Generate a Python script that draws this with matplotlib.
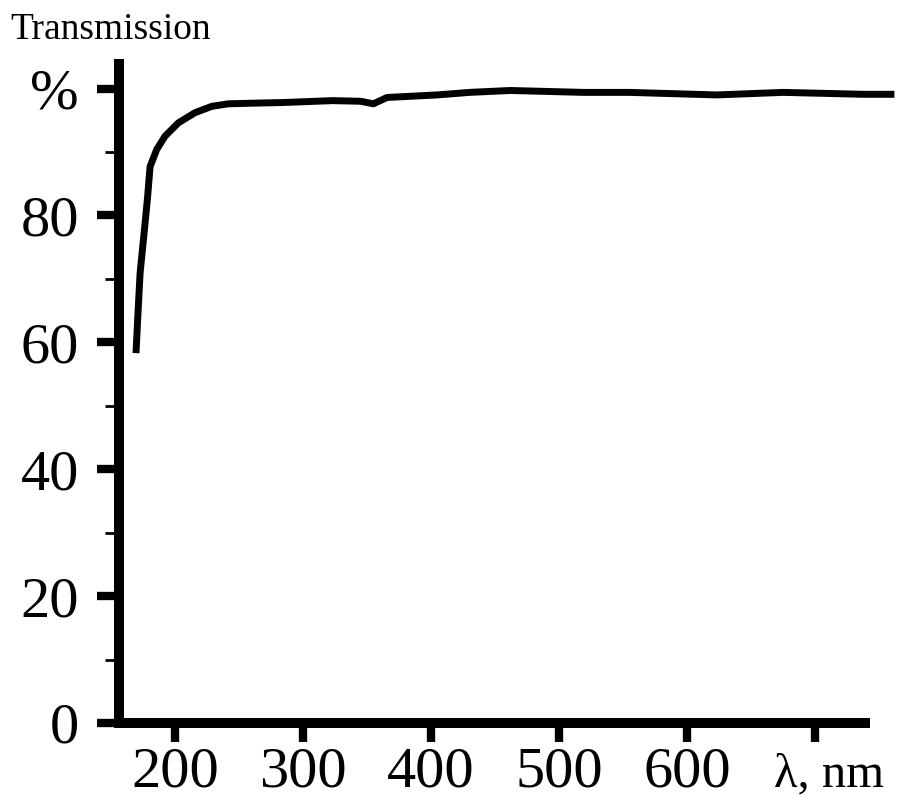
import matplotlib
matplotlib.use("Agg")
from matplotlib import pyplot as plt

plt.rcParams['font.family'] = ['Liberation Serif', 'DejaVu Serif']

# Spectre de transmission (lambda en nm, T en %)
wavelength = [169.5, 170.9, 172.7, 176.6, 178.6, 180.5, 185.7, 192.2, 202.6, 215.6,
              228.7, 241.6, 261.0, 284.0, 323.0, 345.0, 355.0, 365.6, 404.7, 430.0,
              461.7, 518.9, 555.0, 623.0, 675.0, 737.5, 762.0]
transmission = [58.3, 64.0, 70.9, 78.8, 83.0, 87.7, 90.4, 92.5, 94.6, 96.2,
                97.2, 97.6, 97.7, 97.8, 98.1, 98.0, 97.6, 98.6, 99.0, 99.4,
                99.7, 99.4, 99.4, 99.0, 99.4, 99.1, 99.1]

xticks = [200, 300, 400, 500, 600, 700]
xlabels = ["200", "300", "400", "500", "600", ""]
yticks = [0, 20, 40, 60, 80, 100]
ylabels = ["0", "20", "40", "60", "80", "%"]
yminor = [10, 30, 50, 70, 90]

fig = plt.figure(figsize=(8.97, 7.98), dpi=100)
ax = fig.add_axes([0.1327, 0.094, 0.9643 - 0.1327, 0.92 - 0.094])

ax.plot(wavelength, transmission, color="black", lw=5, clip_on=False,
        solid_capstyle="butt", solid_joinstyle="round")

ax.set_xlim(156.25, 739)
ax.set_ylim(0, 103.9)

for side in ["top", "right"]:
    ax.spines[side].set_visible(False)
for side in ["left", "bottom"]:
    ax.spines[side].set_linewidth(7.2)
    ax.spines[side].set_capstyle("projecting")

ax.set_xticks(xticks)
ax.set_xticklabels(xlabels)
ax.set_yticks(yticks)
ax.set_yticklabels(ylabels)
ax.set_yticks(yminor, minor=True)

ax.tick_params(axis="y", which="major", direction="out", length=16, width=6,
               labelsize=42, pad=13)
ax.tick_params(axis="y", which="minor", direction="out", length=10, width=2)
ax.tick_params(axis="x", which="major", direction="out", length=14, width=6,
               labelsize=42, pad=3)

ax.annotate("λ, nm", xy=(668, 0), xycoords=("data", "axes fraction"),
            xytext=(0, -37), textcoords="offset points",
            ha="left", va="center", fontsize=35, annotation_clip=False)

fig.text(0.011, 1 - 30 / 798, "Transmission", ha="left", va="center", fontsize=27)

fig.savefig("out.png", dpi=100)
